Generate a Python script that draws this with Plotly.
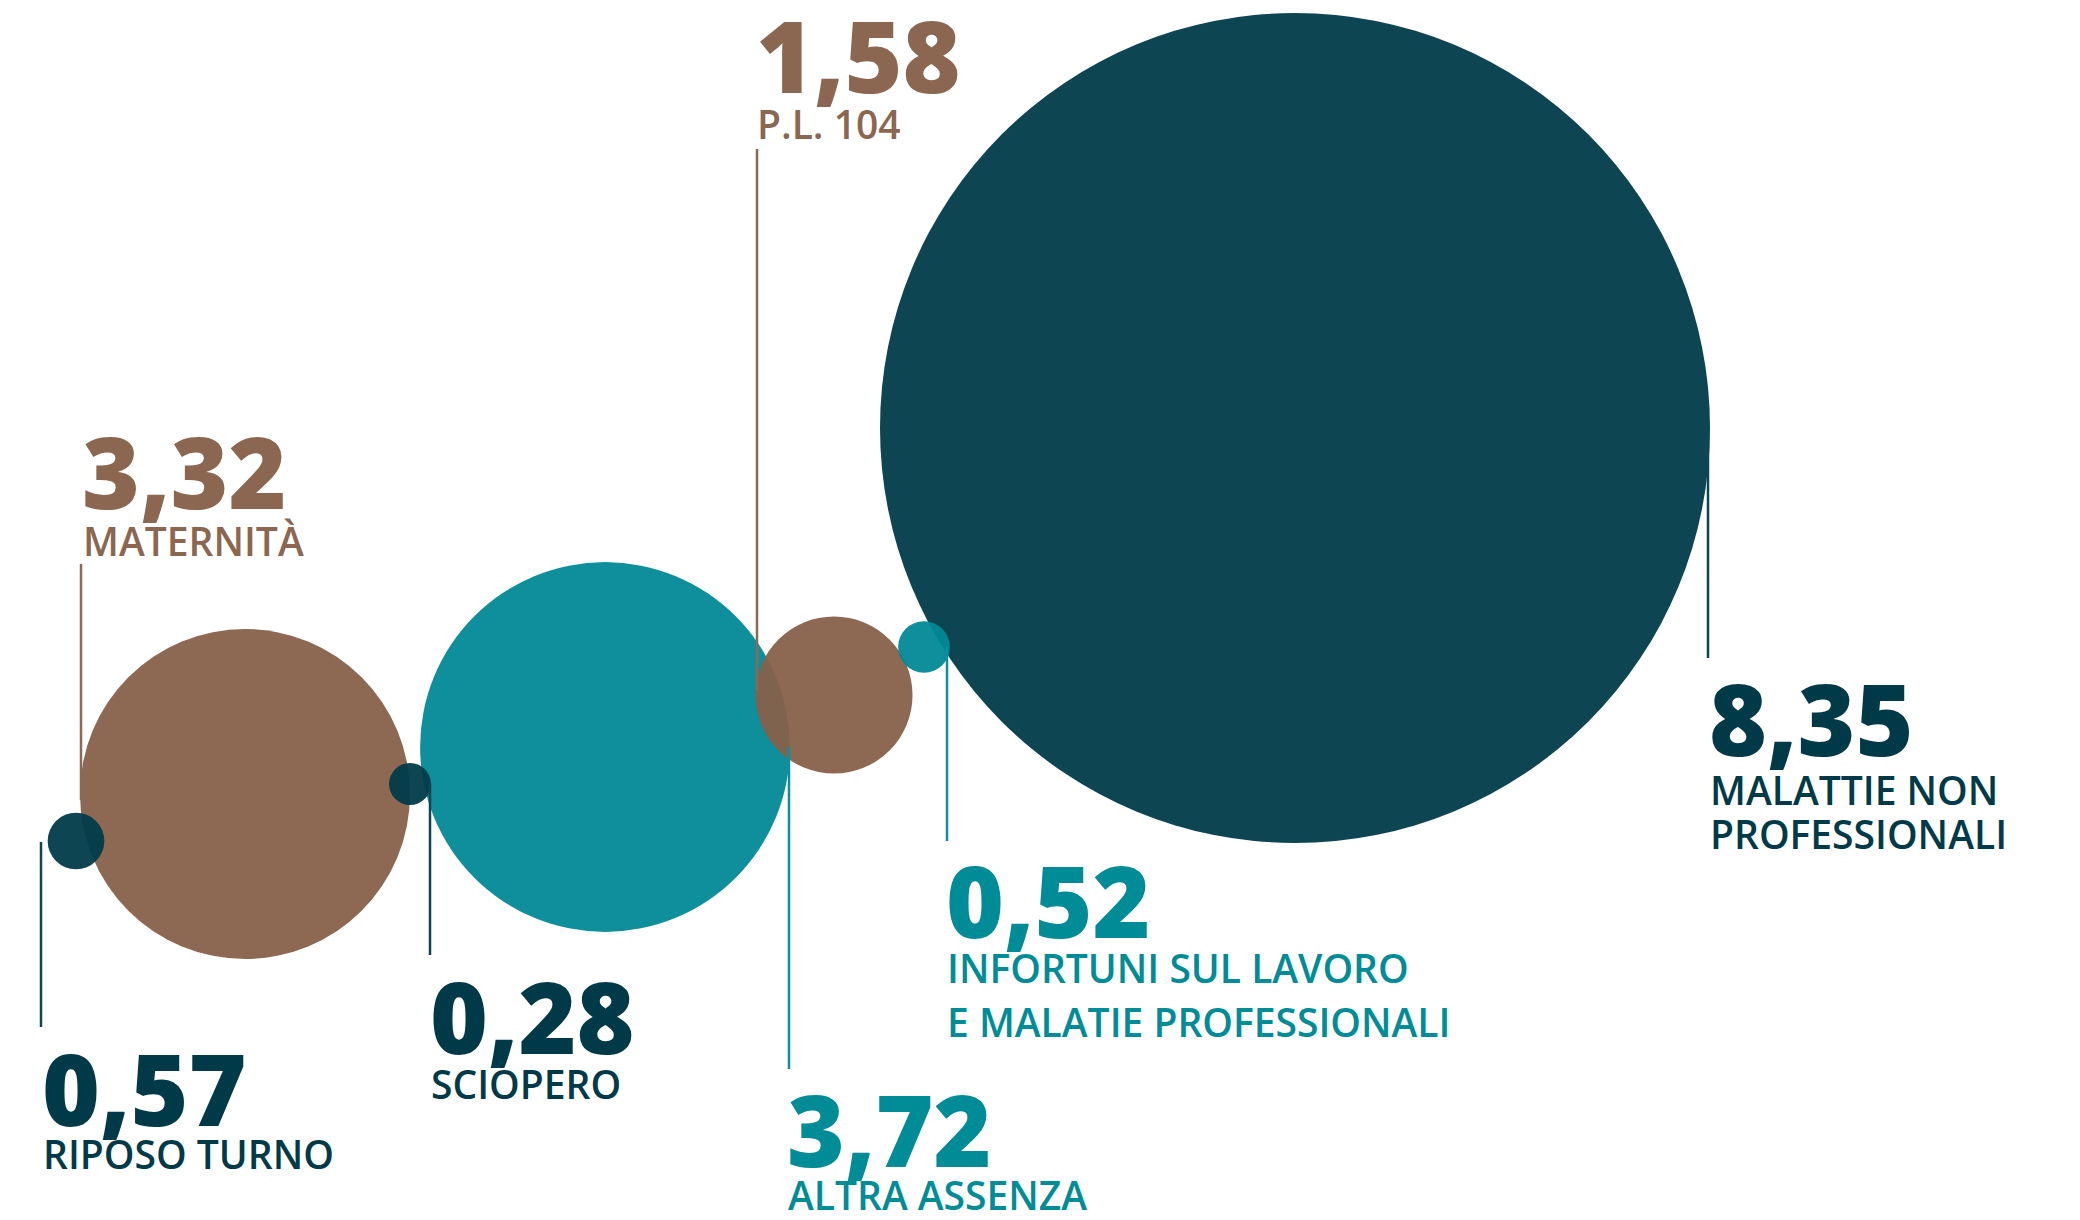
import plotly.graph_objects as go

# ---- data ----
categories = ["RIPOSO TURNO", "MATERNITÀ", "SCIOPERO", "ALTRA ASSENZA", "P.L. 104",
              "INFORTUNI SUL LAVORO<br>E MALATIE PROFESSIONALI", "MALATTIE NON<br>PROFESSIONALI"]
values = [0.57, 3.32, 0.28, 3.72, 1.58, 0.52, 8.35]
groups = ["dark", "brown", "dark", "teal", "brown", "teal", "dark"]

# ---- layout / style (page-pixel positions) ----
bubble_x = [76, 245, 410, 605, 834, 924, 1295]
bubble_y = [841, 794, 784, 747, 695, 647, 428]
line_x = [41, 81, 430, 789, 757, 947, 1708]
line_y0 = [842, 564, 783, 747, 149, 647, 430]
line_y1 = [1027, 800, 955, 1069, 690, 841, 658]
num_x = [45, 85, 433, 790, 759, 949, 1712]
num_top = [1055, 438, 983, 1096, 22, 867, 685]
lab_top = [1140, 527, 1070, 1181, 110, 954, 776]
lab_gap = [0, 0, 0, 0, 0, 54, 44]

bubble_col = {"dark": "rgba(1,59,74,0.95)", "brown": "rgba(135,97,74,0.95)",
              "teal": "rgba(1,137,150,0.95)"}
line_col = {"dark": "#0e4553", "brown": "#8d6953", "teal": "#0e8f9b"}
text_col = {"dark": "#003a48", "brown": "#8b6650", "teal": "#008c96"}
px_per_unit = 99.4
min_diam = 42

PAGE_OFF = 8          # default body margin of the html page
W, H = 2080 - 2 * PAGE_OFF, 1220 - 2 * PAGE_OFF
NUM_SIZE = 99
LAB_SIZE = 39
FONT = "Open Sans"


def px_x(px):
    return (px - PAGE_OFF) / W


def px_y(py):
    return 1 - (py - PAGE_OFF) / H


diam = [max(v * px_per_unit, min_diam) for v in values]
order = sorted(range(len(values)), key=lambda i: -diam[i])

fig = go.Figure()
fig.add_trace(go.Scatter(
    x=[bubble_x[i] for i in order],
    y=[bubble_y[i] for i in order],
    mode="markers",
    marker=dict(size=[diam[i] for i in order], sizemode="diameter",
                color=[bubble_col[groups[i]] for i in order],
                opacity=1, line=dict(width=0)),
    hoverinfo="text",
    text=[f"{categories[i].replace('<br>', ' ')}: {values[i]}" for i in order],
    showlegend=False,
))

shapes = []
annots = []
for i in range(len(values)):
    c = text_col[groups[i]]
    shapes.append(dict(type="line", xref="x", yref="y", x0=line_x[i], x1=line_x[i],
                       y0=line_y0[i], y1=line_y1[i],
                       line=dict(color=line_col[groups[i]], width=2.5), layer="above"))
    num_txt = f"{values[i]:.2f}".replace(".", ",")
    annots.append(dict(x=px_x(num_x[i] - 4), y=px_y(num_top[i] - 0.36 * NUM_SIZE),
                       xref="paper", yref="paper",
                       text=num_txt, showarrow=False, xanchor="left", yanchor="top",
                       borderpad=0,
                       font=dict(family=FONT, size=NUM_SIZE, color=c, weight=800)))
    for k, ln in enumerate(categories[i].split("<br>")):
        annots.append(dict(x=px_x(num_x[i] - 3),
                           y=px_y(lab_top[i] + k * lab_gap[i] - 0.37 * LAB_SIZE),
                           xref="paper", yref="paper", text=ln, showarrow=False,
                           xanchor="left", yanchor="top", borderpad=0,
                           font=dict(family=FONT, size=LAB_SIZE, color=c, weight=600)))

fig.update_layout(
    width=W, height=H,
    margin=dict(l=0, r=0, t=0, b=0),
    paper_bgcolor="white", plot_bgcolor="white",
    xaxis=dict(range=[PAGE_OFF, PAGE_OFF + W], visible=False, fixedrange=True),
    yaxis=dict(range=[PAGE_OFF + H, PAGE_OFF], visible=False, fixedrange=True),
    shapes=shapes, annotations=annots,
)
fig.write_html("out.html")
